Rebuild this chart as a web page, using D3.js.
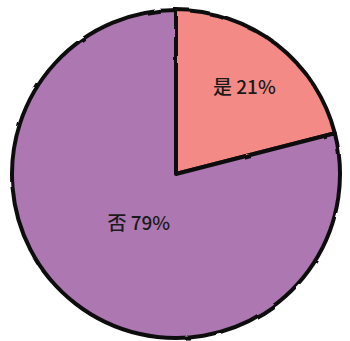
<!DOCTYPE html>
<html>
<head>
<meta charset="utf-8">
<script src="https://cdn.jsdelivr.net/npm/d3@7"></script>
<style>
html,body{margin:0;padding:0;background:#fff;}
svg{display:block;}
</style>
</head>
<body>
<svg id="chart" width="350" height="341"></svg>
<script>
const categories = ["是", "否"];
const values = [21, 79];
const colors = ["#f48a86", "#ad77b2"];

const W = 350, H = 341;
const cx = 176, cy = 174, R = 164;
const labelRadiusFrac = [0.68, 0.37];

const svg = d3.select("#chart");
const defs = svg.append("defs");
const f = defs.append("filter").attr("id", "rough").attr("x", "-5%").attr("y", "-5%").attr("width", "110%").attr("height", "110%");
f.append("feTurbulence").attr("type", "fractalNoise").attr("baseFrequency", 0.04).attr("numOctaves", 2).attr("seed", 3).attr("result", "noise");
f.append("feDisplacementMap").attr("in", "SourceGraphic").attr("in2", "noise").attr("scale", 2.5);

const g = svg.append("g").attr("transform", `translate(${cx},${cy})`);

const pie = d3.pie().sort(null).value(d => d.value);
const data = pie(categories.map((c, i) => ({ cat: c, value: values[i] })));
const arc = d3.arc().innerRadius(0).outerRadius(R);

g.selectAll("path.slice")
  .data(data)
  .join("path")
  .attr("class", "slice")
  .attr("d", arc)
  .attr("fill", (d, i) => colors[i])
  .attr("stroke", "#111")
  .attr("stroke-width", 4)
  .attr("stroke-linejoin", "round")
  .attr("filter", "url(#rough)");

const total = d3.sum(values);
g.selectAll("text.lbl")
  .data(data)
  .join("text")
  .attr("class", "lbl")
  .attr("transform", (d, i) => {
    const la = d3.arc().innerRadius(R * labelRadiusFrac[i]).outerRadius(R * labelRadiusFrac[i]);
    const [x, y] = la.centroid(d);
    return `translate(${x},${y})`;
  })
  .attr("text-anchor", "middle")
  .attr("dominant-baseline", "central")
  .attr("font-family", "'Noto Sans CJK SC', 'Noto Sans', sans-serif")
  .attr("font-size", 19)
  .attr("font-weight", 500)
  .attr("fill", "#1a1a1a")
  .text(d => `${d.data.cat} ${Math.round(d.data.value / total * 100)}%`);
</script>
</body>
</html>
